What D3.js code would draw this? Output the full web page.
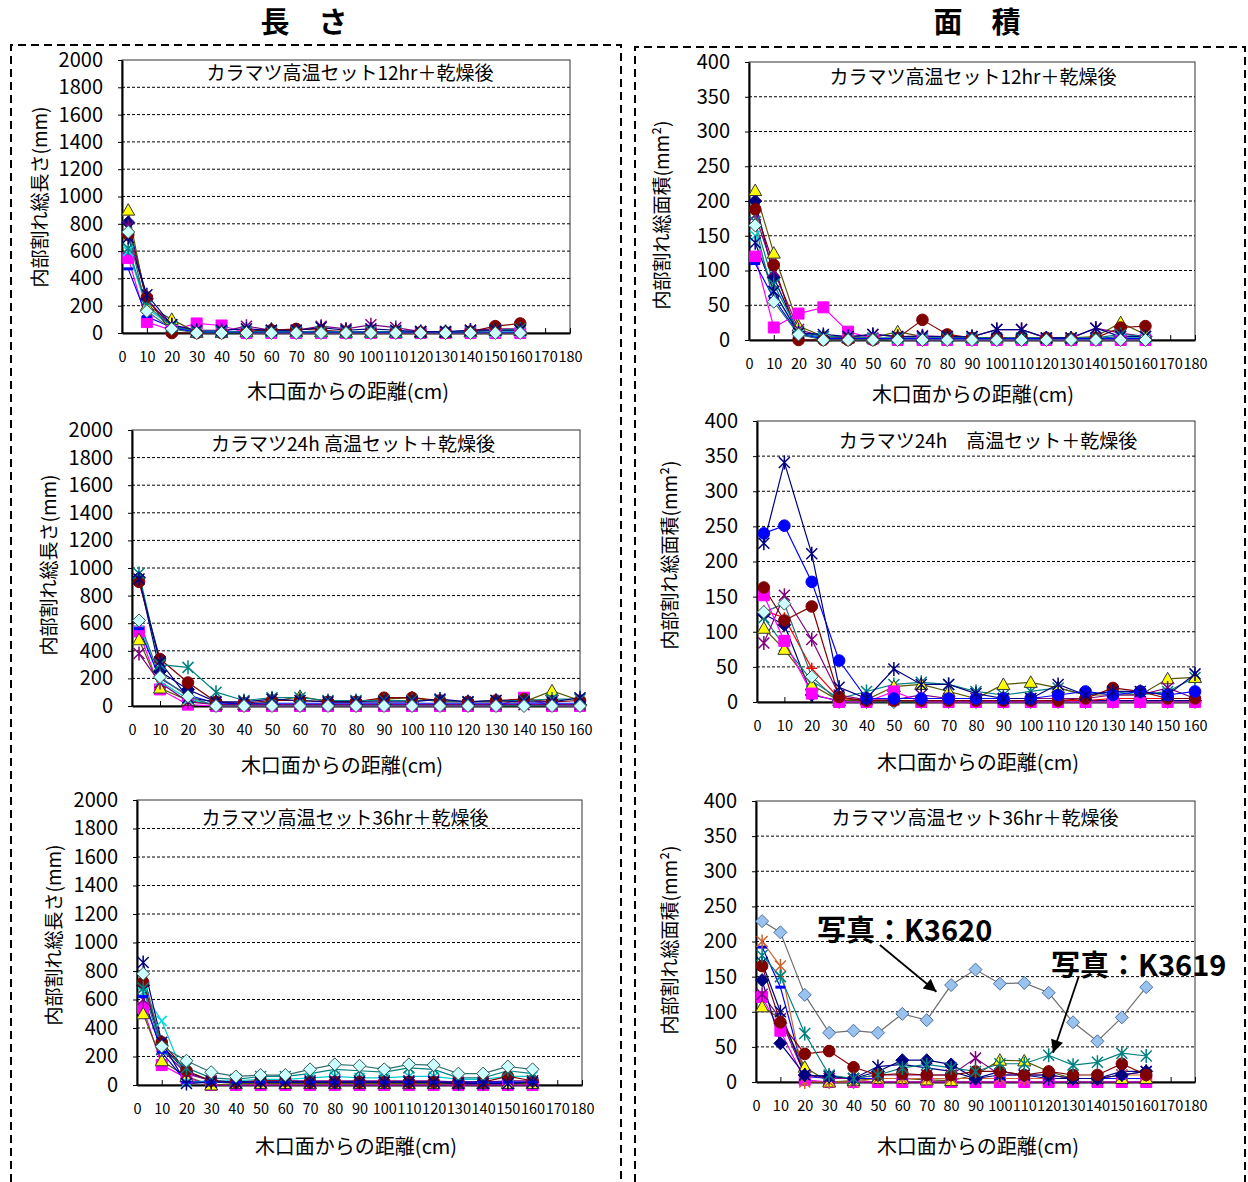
<!DOCTYPE html>
<html><head><meta charset="utf-8">
<script src="https://cdn.jsdelivr.net/npm/d3@7"></script>
<style>
body{margin:0;background:#fff}
svg{display:block}
text{font-family:"Noto Sans CJK JP","Noto Sans",sans-serif;fill:#000}
</style></head>
<body><svg id="c" width="1248" height="1182"></svg>
<script>
// ---------- data ----------
const distances = [2.5,10,20,30,40,50,60,70,80,90,100,110,120,130,140,150,160];
const xTicks180 = [0,10,20,30,40,50,60,70,80,90,100,110,120,130,140,150,160,170,180];
const xTicks160 = [0,10,20,30,40,50,60,70,80,90,100,110,120,130,140,150,160];
const yTicksLength = [0,200,400,600,800,1000,1200,1400,1600,1800,2000];
const yTicksArea = [0,50,100,150,200,250,300,350,400];

// 12hr length
const seriesLen12 = ["navyDiamond","magentaSquare","yellowTriangle","cyanX","purpleStar","maroonCircle","tealStar","blueDash","navyStar","paleDiamond"];
const len12 = [
  [810,250,40,5,5,5,5,5,5,5,5,5,5,5,5,5,5],
  [550,80,20,70,55,0,0,0,0,0,0,0,0,0,0,0,0],
  [900,200,100,5,5,10,30,10,10,5,5,5,5,5,10,20,20],
  [600,180,50,5,5,5,5,5,5,5,5,5,5,5,5,5,10],
  [780,240,60,10,10,50,20,20,50,30,60,40,10,5,20,30,30],
  [720,260,0,0,0,10,20,30,20,10,10,10,5,5,10,50,70],
  [620,200,50,10,10,10,10,10,10,10,10,10,10,10,10,20,30],
  [470,120,40,5,5,5,5,5,5,5,5,5,5,5,5,5,5],
  [700,280,60,20,20,30,20,20,40,20,30,20,10,10,20,20,20],
  [740,160,30,0,0,0,0,0,0,0,0,0,0,0,0,0,0]
];
// 12hr area
const seriesArea12 = ["navyDiamond","magentaSquare","yellowTriangle","cyanX","purpleStar","maroonCircle","tealStar","blueDash","navyStar","paleDiamond"];
const area12 = [
  [200,90,10,3,2,2,2,2,2,2,2,2,2,2,2,5,5],
  [120,18,38,47,12,2,0,0,0,0,0,0,0,0,0,0,0],
  [215,125,20,5,3,3,12,5,5,3,3,3,3,3,5,25,8],
  [150,70,8,3,2,2,2,2,2,2,2,2,2,2,2,3,3],
  [180,100,15,5,3,8,5,6,5,5,15,15,3,3,17,10,5],
  [188,108,0,0,0,0,3,29,8,3,3,3,3,2,3,18,20],
  [170,80,12,5,5,3,3,3,3,3,3,3,3,3,3,8,5],
  [110,60,8,2,2,2,2,2,2,2,2,2,2,2,2,2,2],
  [140,70,10,8,5,8,5,5,5,5,15,15,3,3,17,5,5],
  [165,55,8,0,0,0,0,0,0,0,0,0,0,0,0,0,0]
];
// 24h length
const seriesLen24 = ["navyDiamond","magentaSquare","yellowTriangle","cyanX","purpleStar","maroonCircle","tealStar","blueDash","navyStar","paleDiamond"];
const len24 = [
  [930,250,120,30,10,10,10,10,10,10,10,10,10,10,10,10,10],
  [540,120,10,0,0,0,0,0,0,0,0,0,0,0,60,0,0],
  [480,130,40,10,10,30,70,30,30,50,60,30,30,30,30,110,40],
  [600,180,50,10,10,10,10,10,10,10,10,10,10,10,10,10,10],
  [380,170,30,10,10,10,10,10,10,10,10,10,10,10,10,10,10],
  [900,340,170,30,20,40,40,30,30,60,60,40,30,40,50,30,40],
  [960,300,280,100,40,60,60,40,40,40,40,40,30,40,40,50,50],
  [560,200,80,20,20,20,20,20,20,20,20,20,20,20,20,20,20],
  [920,320,60,30,30,50,40,30,30,30,30,50,30,40,30,30,60],
  [620,210,70,0,0,0,0,0,0,0,0,0,0,0,0,0,0]
];
// 24h area
const seriesArea24 = ["navyDiamond","redPlus","tealStar","yellowTriangle","purpleStar","paleDiamond","magentaSquare","maroonCircle","blueCircle","navyStar"];
const area24 = [
  [125,110,10,2,2,2,2,2,2,2,2,2,2,2,2,2,2],
  [130,120,48,5,2,2,2,2,2,2,2,2,2,5,5,5,5],
  [120,80,30,5,15,25,28,25,15,10,15,20,10,15,10,15,35],
  [105,75,24,2,3,22,25,15,5,25,28,20,10,10,10,33,35],
  [84,152,89,10,3,3,10,5,5,5,5,5,5,10,10,20,5],
  [128,140,36,0,0,0,0,0,0,0,0,0,0,0,0,0,0],
  [152,87,12,0,0,15,0,0,0,0,0,0,0,0,0,0,0],
  [163,116,136,7,2,2,2,2,2,2,2,2,5,20,15,5,5],
  [240,251,171,59,5,5,5,5,5,5,5,10,15,10,15,10,15],
  [226,341,211,21,5,47,25,25,12,5,5,25,10,15,15,10,40]
];
// 36hr length
const seriesLen36 = ["navyDiamond","magentaSquare","yellowTriangle","cyanX","purpleStar","maroonCircle","tealStar","blueDash","navyStar","paleDiamond"];
const len36 = [
  [700,280,90,30,20,20,20,20,20,20,20,20,20,20,20,20,20],
  [540,140,50,0,0,0,0,0,0,0,0,0,0,0,0,0,0],
  [500,170,60,0,10,10,10,10,10,10,10,10,10,10,10,10,10],
  [650,450,20,30,30,40,40,50,60,50,50,60,60,40,40,60,60],
  [600,250,80,30,20,30,30,30,30,30,30,30,30,20,20,30,30],
  [720,300,100,30,20,30,30,20,20,20,20,20,20,20,20,60,30],
  [680,250,120,50,40,60,60,80,110,100,90,120,110,50,50,100,80],
  [620,230,20,20,20,20,20,20,20,20,20,20,20,20,20,20,20],
  [860,300,10,20,20,20,20,20,20,20,20,20,20,10,10,10,20],
  [780,270,170,90,60,70,70,110,145,135,110,145,140,80,80,130,110]
];
// 36hr area
const seriesArea36 = ["magentaSquare","yellowTriangle","blueDash","purpleStar","orangeStar","navyStar","navyDiamond","maroonCircle","tealStar","steelDiamond"];
const area36 = [
  [121,73,3,0,0,0,0,0,0,0,0,0,0,0,0,0,0],
  [107,90,21,0,2,5,5,3,2,10,31,30,15,5,5,5,5],
  [192,135,8,5,5,5,5,5,5,5,5,5,5,5,5,5,5],
  [125,90,10,5,5,10,10,10,10,34,10,10,10,5,5,10,15],
  [200,165,0,0,0,5,5,5,5,5,5,5,5,5,5,10,10],
  [170,100,10,8,5,22,25,20,15,5,10,10,5,5,5,15,15],
  [145,55,10,8,5,15,31,31,25,5,15,10,10,5,5,10,15],
  [165,85,40,44,21,10,12,10,10,15,15,10,15,10,10,26,10],
  [180,150,69,10,5,10,20,25,20,15,26,26,38,24,28,41,37],
  [229,213,124,70,73,70,97,88,138,160,140,141,127,85,58,92,135]
];

// ---------- styles ----------
const STY = {
  navyDiamond:{line:"#000080",shape:"diamond",fill:"#000080",stroke:"#000080"},
  magentaSquare:{line:"#FF00FF",shape:"square",fill:"#FF00FF",stroke:"#FF00FF"},
  yellowTriangle:{line:"#555500",shape:"triangle",fill:"#FFFF00",stroke:"#333"},
  cyanX:{line:"#00CCCC",shape:"x",fill:"none",stroke:"#00DDDD"},
  purpleStar:{line:"#800080",shape:"star",fill:"none",stroke:"#800080"},
  maroonCircle:{line:"#800000",shape:"circle",fill:"#800000",stroke:"#800000"},
  tealStar:{line:"#008080",shape:"star",fill:"none",stroke:"#008080"},
  blueDash:{line:"#0000FF",shape:"dash",fill:"none",stroke:"#0000FF"},
  paleDiamond:{line:"#2F6F6F",shape:"diamond",fill:"#CCFFFF",stroke:"#335555"},
  navyStar:{line:"#000080",shape:"star",fill:"none",stroke:"#000080"},
  blueCircle:{line:"#0000FF",shape:"circle",fill:"#0000FF",stroke:"#0000FF"},
  redPlus:{line:"#FF0000",shape:"plus",fill:"none",stroke:"#FF0000"},
  steelDiamond:{line:"#707070",shape:"diamond",fill:"#99C2EE",stroke:"#4F6F9F"},
  orangeStar:{line:"#CC6633",shape:"star",fill:"none",stroke:"#CC6633"}
};
function markerPath(shape){
  switch(shape){
    case "diamond": return "M0,-6.5L6.5,0L0,6.5L-6.5,0Z";
    case "square": return "M-5.5,-5.5H5.5V5.5H-5.5Z";
    case "triangle": return "M0,-6.5L6.5,5L-6.5,5Z";
    case "circle": return "M5.8,0A5.8,5.8,0,1,1,-5.8,0A5.8,5.8,0,1,1,5.8,0Z";
    case "x": return "M-5,-5L5,5M-5,5L5,-5";
    case "star": return "M-5.5,-5.5L5.5,5.5M-5.5,5.5L5.5,-5.5M0,-7L0,7";
    case "dash": return "M-5,0H5";
    case "plus": return "M-5.5,0H5.5M0,-5.5V5.5";
  }
}
const openShapes = new Set(["x","star","dash","plus"]);

// ---------- layout ----------
const panels = [
  {names:seriesLen12, data:len12, x0:122,x1:570,y0:60,y1:333, xmax:180, xt:xTicks180, ymax:2000, yt:yTicksLength,
   title:"カラマツ高温セット12hr＋乾燥後", tx:350, ty:80, xlab:"木口面からの距離(cm)", xlx:348, xly:399,
   ylab:"内部割れ総長さ(mm)", ylx:38, yly:197},
  {names:seriesArea12, data:area12, x0:749,x1:1195,y0:62,y1:340, xmax:180, xt:xTicks180, ymax:400, yt:yTicksArea,
   title:"カラマツ高温セット12hr＋乾燥後", tx:973, ty:84, xlab:"木口面からの距離(cm)", xlx:973, xly:402,
   ylab:"内部割れ総面積(mm²)", ylx:660, yly:215},
  {names:seriesLen24, data:len24, x0:132,x1:580,y0:430,y1:706, xmax:160, xt:xTicks160, ymax:2000, yt:yTicksLength,
   title:"カラマツ24h 高温セット＋乾燥後", tx:353, ty:451, xlab:"木口面からの距離(cm)", xlx:342, xly:773,
   ylab:"内部割れ総長さ(mm)", ylx:47, yly:565},
  {names:seriesArea24, data:area24, x0:757,x1:1195,y0:421,y1:702, xmax:160, xt:xTicks160, ymax:400, yt:yTicksArea,
   title:"カラマツ24h　高温セット＋乾燥後", tx:988, ty:448, xlab:"木口面からの距離(cm)", xlx:978, xly:770,
   ylab:"内部割れ総面積(mm²)", ylx:668, yly:555},
  {names:seriesLen36, data:len36, x0:137,x1:582,y0:800,y1:1085, xmax:180, xt:xTicks180, ymax:2000, yt:yTicksLength,
   title:"カラマツ高温セット36hr＋乾燥後", tx:345, ty:825, xlab:"木口面からの距離(cm)", xlx:356, xly:1154,
   ylab:"内部割れ総長さ(mm)", ylx:52, yly:935},
  {names:seriesArea36, data:area36, x0:756,x1:1195,y0:801,y1:1082, xmax:180, xt:xTicks180, ymax:400, yt:yTicksArea,
   title:"カラマツ高温セット36hr＋乾燥後", tx:975, ty:825, xlab:"木口面からの距離(cm)", xlx:978, xly:1154,
   ylab:"内部割れ総面積(mm²)", ylx:668, yly:940,
   notes:[{label:"写真：K3620", tx:25, ty:201, from:[50.8,195], to:[74,128.5]},
          {label:"写真：K3619", tx:121, ty:151, from:[132.4,151], to:[121.8,41.7]}]}
];

const svg = d3.select("#c");
svg.append("defs").append("marker").attr("id","ah").attr("viewBox","0 0 10 10")
  .attr("refX",10).attr("refY",5).attr("markerWidth",9).attr("markerHeight",7)
  .attr("markerUnits","strokeWidth").attr("orient","auto")
  .append("path").attr("d","M0,0L10,5L0,10Z").attr("fill","#000");

// headings and dashed frames
svg.append("text").attr("x",304).attr("y",33).attr("text-anchor","middle")
  .attr("font-size",29).attr("font-weight","bold").text("長　さ");
svg.append("text").attr("x",977).attr("y",33).attr("text-anchor","middle")
  .attr("font-size",29).attr("font-weight","bold").text("面　積");
svg.append("path").attr("d","M11,1182V45H621V1182").attr("fill","none")
  .attr("stroke","#000").attr("stroke-width",2).attr("stroke-dasharray","8,5");
svg.append("path").attr("d","M635,1182V47H1245V1182").attr("fill","none")
  .attr("stroke","#000").attr("stroke-width",2).attr("stroke-dasharray","8,5");

panels.forEach(p => {
  const g = svg.append("g");
  const x = d3.scaleLinear().domain([0,p.xmax]).range([p.x0,p.x1]);
  const y = d3.scaleLinear().domain([0,p.ymax]).range([p.y1,p.y0]);
  // plot frame
  g.append("rect").attr("x",p.x0).attr("y",p.y0).attr("width",p.x1-p.x0).attr("height",p.y1-p.y0)
    .attr("fill","#fff").attr("stroke","#333").attr("stroke-width",1);
  // grid
  g.selectAll("line.grid").data(p.yt.filter(v=>v>0 && v<p.ymax)).enter().append("line")
    .attr("x1",p.x0).attr("x2",p.x1).attr("y1",d=>y(d)).attr("y2",d=>y(d))
    .attr("stroke","#000").attr("stroke-width",1).attr("stroke-dasharray","3,2");
  // y axis
  const ya = g.append("g").attr("transform",`translate(${p.x0},0)`)
    .call(d3.axisLeft(y).tickValues(p.yt).tickSize(4).tickSizeOuter(0).tickPadding(15).tickFormat(d3.format("d")));
  ya.select(".domain").attr("stroke","#000").attr("stroke-width",2);
  ya.selectAll(".tick line").attr("stroke","#000");
  ya.selectAll(".tick text").attr("font-size",20).attr("font-family",'"Noto Sans CJK JP",sans-serif').attr("fill","#000");
  // x axis
  const xa = g.append("g").attr("transform",`translate(0,${p.y1})`)
    .call(d3.axisBottom(x).tickValues(p.xt).tickSize(-5).tickSizeOuter(0).tickPadding(19).tickFormat(d3.format("d")));
  xa.select(".domain").attr("stroke","#000").attr("stroke-width",2);
  xa.selectAll(".tick line").attr("stroke","#000");
  xa.selectAll(".tick text").attr("font-size",14.5).attr("font-family",'"Noto Sans CJK JP",sans-serif').attr("fill","#000");
  // series
  const line = d3.line().x((d,i)=>x(distances[i])).y(d=>y(d));
  p.data.forEach((vals,si) => {
    const st = STY[p.names[si]];
    g.append("path").datum(vals).attr("d",line).attr("fill","none")
      .attr("stroke",st.line).attr("stroke-width",1.2);
  });
  p.data.forEach((vals,si) => {
    const st = STY[p.names[si]];
    const open = openShapes.has(st.shape);
    g.selectAll(null).data(vals).enter().append("path")
      .attr("transform",(d,i)=>`translate(${x(distances[i])},${y(d)})`)
      .attr("d",markerPath(st.shape))
      .attr("fill",open?"none":st.fill)
      .attr("stroke",st.stroke)
      .attr("stroke-width",st.shape==="dash"?3:(open?1.5:1));
  });
  // texts
  g.append("text").attr("x",p.tx).attr("y",p.ty).attr("text-anchor","middle").attr("font-size",19).text(p.title);
  g.append("text").attr("x",p.xlx).attr("y",p.xly).attr("text-anchor","middle").attr("font-size",20).text(p.xlab);
  g.append("text").attr("transform",`translate(${p.ylx},${p.yly}) rotate(-90)`)
    .attr("text-anchor","middle").attr("dominant-baseline","central").attr("font-size",19).text(p.ylab);
  // annotations
  (p.notes||[]).forEach(n => {
    g.append("text").attr("x",x(n.tx)).attr("y",y(n.ty)).attr("font-size",29).attr("font-weight","bold").text(n.label);
    g.append("line").attr("x1",x(n.from[0])).attr("y1",y(n.from[1])).attr("x2",x(n.to[0])).attr("y2",y(n.to[1]))
      .attr("stroke","#000").attr("stroke-width",1.8).attr("marker-end","url(#ah)");
  });
});
</script></body></html>
